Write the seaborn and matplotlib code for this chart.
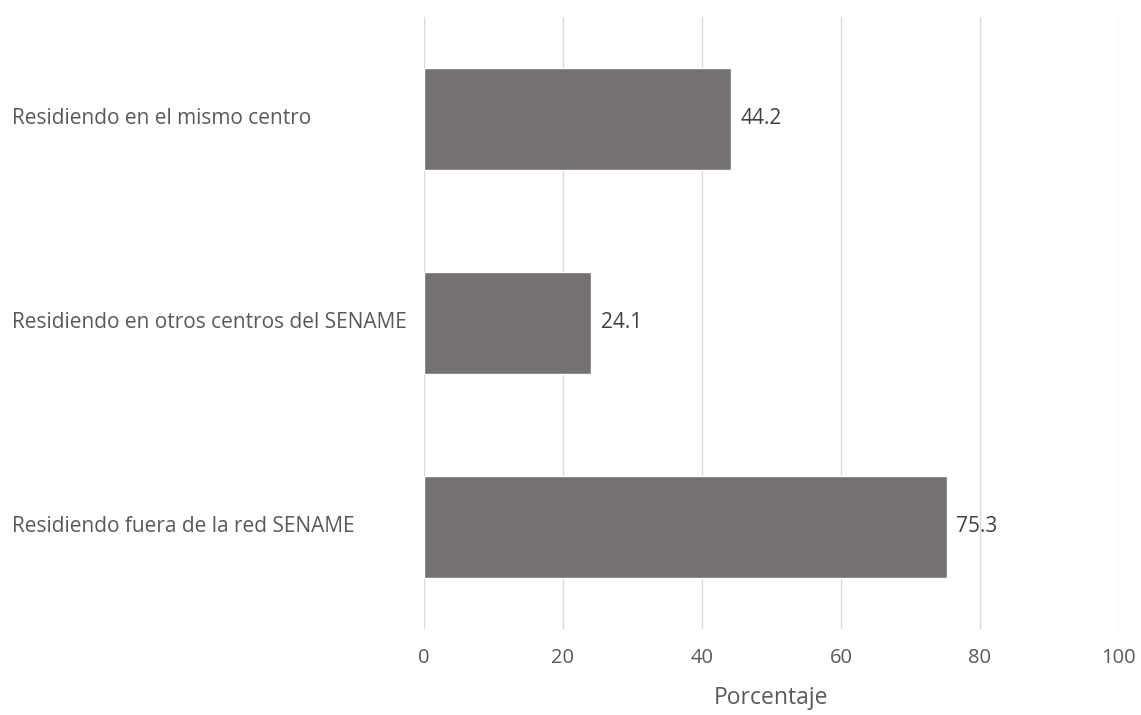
import matplotlib
matplotlib.use("Agg")
import matplotlib.pyplot as plt
import seaborn as sns
import pandas as pd

categories = [
    "Residiendo en el mismo centro",
    "Residiendo en otros centros del SENAME",
    "Residiendo fuera de la red SENAME",
]
values = [44.2, 24.1, 75.3]
x_ticks = [0, 20, 40, 60, 80, 100]

sns.set_theme(style="white")
plt.rcParams["font.family"] = ["Open Sans", "DejaVu Sans"]

df = pd.DataFrame({"categoria": categories, "porcentaje": values})

fig = plt.figure(figsize=(11.41, 7.15), dpi=100)
ax = fig.add_axes([0.3716, 0.1203, 0.6091, 0.856])

sns.barplot(data=df, y="categoria", x="porcentaje", orient="h",
            color="#757170", saturation=1, width=0.5, ax=ax, zorder=2)

ax.set_xlim(0, 100)
ax.set_xticks(x_ticks)
ax.set_xticklabels([str(t) for t in x_ticks], fontsize=14.5, color="#595959")
ax.grid(axis="x", color="#d9d9d9", linewidth=1, zorder=0)
ax.grid(axis="y", visible=False)
for s in ax.spines.values():
    s.set_visible(False)
ax.tick_params(axis="both", length=0)
ax.tick_params(axis="x", pad=14)

ax.set_ylabel("")
ax.set_xlabel("Porcentaje", fontsize=16.5, color="#595959", labelpad=13)

# category labels left-aligned at the figure edge
ax.set_yticklabels([])
for i, cat in enumerate(categories):
    ax.text(-0.593, i, cat, transform=ax.get_yaxis_transform(), fontsize=15,
            color="#595959", ha="left", va="center")

for i, v in enumerate(values):
    ax.text(v + 1.3, i, f"{v:.1f}", fontsize=15, color="#404040",
            ha="left", va="center")

fig.savefig("out.png", dpi=100)
